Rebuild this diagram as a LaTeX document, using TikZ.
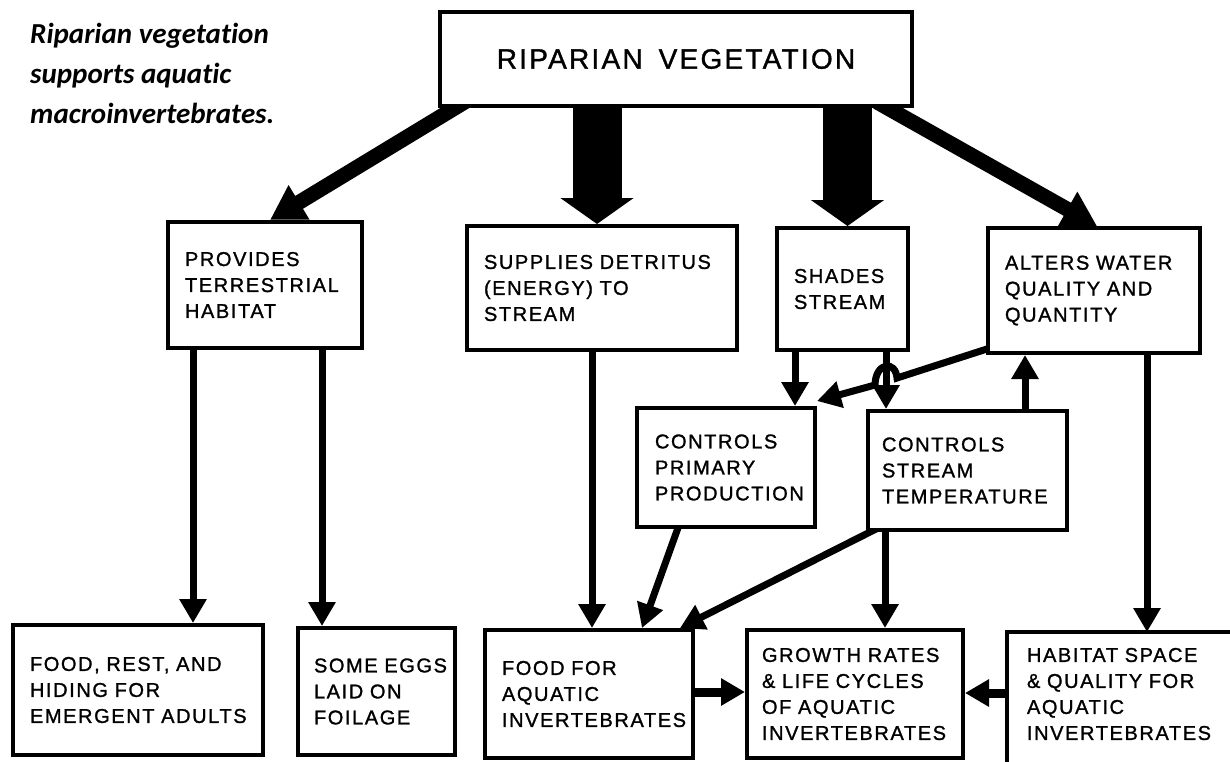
\documentclass[tikz,border=0pt]{standalone}
\usepackage{fontspec}
\setmainfont{Liberation Sans}
\newfontfamily\boxfont[LetterSpace=8,FakeBold=1.2]{Liberation Sans}
\newfontfamily\titlefont[Ligatures=NoCommon]{Carlito}
\usetikzlibrary{arrows.meta,calc}
\pgfdeclarelayer{bg}
\pgfsetlayers{bg,main}
\newcommand\myline[1]{\mbox{#1}}
\begin{document}
\begin{tikzpicture}[x=1pt,y=-1pt,
  box/.style={draw, line width=4pt, fill=white, inner sep=0pt, align=left,
    font=\boxfont\fontsize{20}{26}\selectfont},
  arr/.style={line width=7pt, -{Triangle[length=24pt,width=26pt]}},
  thickarr/.style={line width=15pt, -{Triangle[length=34pt,width=38pt]}},
  blockarr/.style={line width=49pt, -{Triangle[length=26pt,width=72pt]}},
]
\useasboundingbox (0,0) rectangle (1230,761);

% title
\node[anchor=north west, inner sep=0pt, align=left,
  font=\titlefont\bfseries\itshape\fontsize{29}{40}\selectfont] (title) at (30,23)
  {Riparian vegetation\\supports aquatic\\macroinvertebrates.};

% boxes
\node[box, minimum width=472pt, minimum height=94pt, align=center,
  font=\boxfont\fontsize{28}{32}\selectfont] (top) at (676,59)
  {RIPARIAN\hspace{16pt}VEGETATION};
\node[box, minimum width=194pt, minimum height=126pt, text width=160pt] (prov) at (265,285)
  {\myline{PROVIDES}\\\myline{TERRESTRIAL}\\\myline{HABITAT}};
\node[box, minimum width=270pt, minimum height=124pt, text width=236pt] (supp) at (602,288)
  {\myline{SUPPLIES DETRITUS}\\\myline{(ENERGY) TO}\\\myline{STREAM}};
\node[box, minimum width=131pt, minimum height=122pt, text width=97pt] (shad) at (842.5,289)
  {\myline{SHADES}\\\myline{STREAM}};
\node[box, minimum width=212pt, minimum height=125pt, text width=178pt] (alt) at (1094,290.5)
  {\myline{ALTERS WATER}\\\myline{QUALITY AND}\\\myline{QUANTITY}};
\node[box, minimum width=178pt, minimum height=119pt, text width=142pt] (cpp) at (726,467.5)
  {\myline{CONTROLS}\\\myline{PRIMARY}\\\myline{PRODUCTION}};
\node[box, minimum width=199pt, minimum height=119pt, text width=171pt] (cst) at (967.5,470.5)
  {\myline{CONTROLS}\\\myline{STREAM}\\\myline{TEMPERATURE}};
\node[box, minimum width=250pt, minimum height=130pt, text width=216pt] (frh) at (138,690)
  {\myline{FOOD, REST, AND}\\\myline{HIDING FOR}\\\myline{EMERGENT ADULTS}};
\node[box, minimum width=157pt, minimum height=127pt, text width=125pt] (egg) at (376.5,691.5)
  {\myline{SOME EGGS}\\\myline{LAID ON}\\\myline{FOILAGE}};
\node[box, minimum width=208pt, minimum height=128pt, text width=174pt] (faq) at (589,694)
  {\myline{FOOD FOR}\\\myline{AQUATIC}\\\myline{INVERTEBRATES}};
\node[box, minimum width=216pt, minimum height=128pt, text width=186pt] (gro) at (855,694)
  {\myline{GROWTH RATES}\\\myline{\& LIFE CYCLES}\\\myline{OF AQUATIC}\\\myline{INVERTEBRATES}};
\node[box, draw=none, anchor=north west, minimum width=240pt, minimum height=120pt,
  text width=204pt] (hab) at (1007,632)
  {\myline{HABITAT SPACE}\\\myline{\& QUALITY FOR}\\\myline{AQUATIC}\\\myline{INVERTEBRATES}};
\draw[line width=4pt] ($(hab.south west)+(0,20)$) -- (hab.north west) -- ($(hab.north east)+(20,0)$);

% hop coordinates
\coordinate (hopR) at ($(shad.south)+(54.5,26)$);
\coordinate (hopL) at ($(shad.south)+(32.5,33)$);
\coordinate (hopC1) at ($(shad.south)+(53,8)$);
\coordinate (hopC2) at ($(shad.south)+(33,10)$);

\begin{pgfonlayer}{bg}
\draw[thickarr] ($(top.south west)+(30,-8)$) -- ($(prov.north)+(5,0)$);
\draw[thickarr] ($(top.south east)+(-37,-6)$) -- ($(alt.north)+(3,0)$);
\draw[blockarr] ($(supp.north)+(-5,-130)$) -- ($(supp.north)+(-5,0)$);
\draw[blockarr] ($(shad.north)+(5,-130)$) -- ($(shad.north)+(5,0)$);
\draw[arr] ($(prov.south)+(-72,0)$) -- ($(frh.north)+(55,0)$);
\draw[arr] ($(prov.south)+(57,0)$) -- ($(egg.north)+(-54.5,0)$);
\draw[arr] ($(supp.south)+(-10,0)$) -- ($(faq.north)+(3,0)$);
\draw[arr] ($(shad.south)+(-47.5,0)$) -- ($(cpp.north)+(69,0)$);
\draw[arr] ($(shad.south)+(43.5,0)$) -- ($(cst.north)+(-81.5,0)$);
\draw[arr] ($(cst.north)+(57.5,0)$) -- ($(alt.south)+(-69,0)$);
\draw[arr] ($(alt.south)+(53,0)$) -- ($(hab.north west)+(140,0)$);
\draw[arr] ($(alt.south west)+(4,-7)$) -- (hopR) .. controls (hopC1) and (hopC2) .. (hopL)
  -- ($(cpp.north east)+(0,-5)$);
\draw[arr] ($(cpp.south)+(-47,-4)$) -- ($(faq.north)+(53,0)$);
\draw[arr] ($(cst.south west)+(12,-4)$) -- ($(faq.north)+(91,0)$);
\draw[arr] ($(cst.south)+(-82.5,0)$) -- ($(gro.north)+(30,0)$);
\draw[arr, line width=9pt] ($(faq.east)+(0,-2)$) -- ($(gro.west)+(0,-2)$);
\draw[arr, line width=9pt] ($(hab.north west)+(0,61)$) -- ($(gro.east)+(0,-1)$);
\end{pgfonlayer}
\end{tikzpicture}
\end{document}
